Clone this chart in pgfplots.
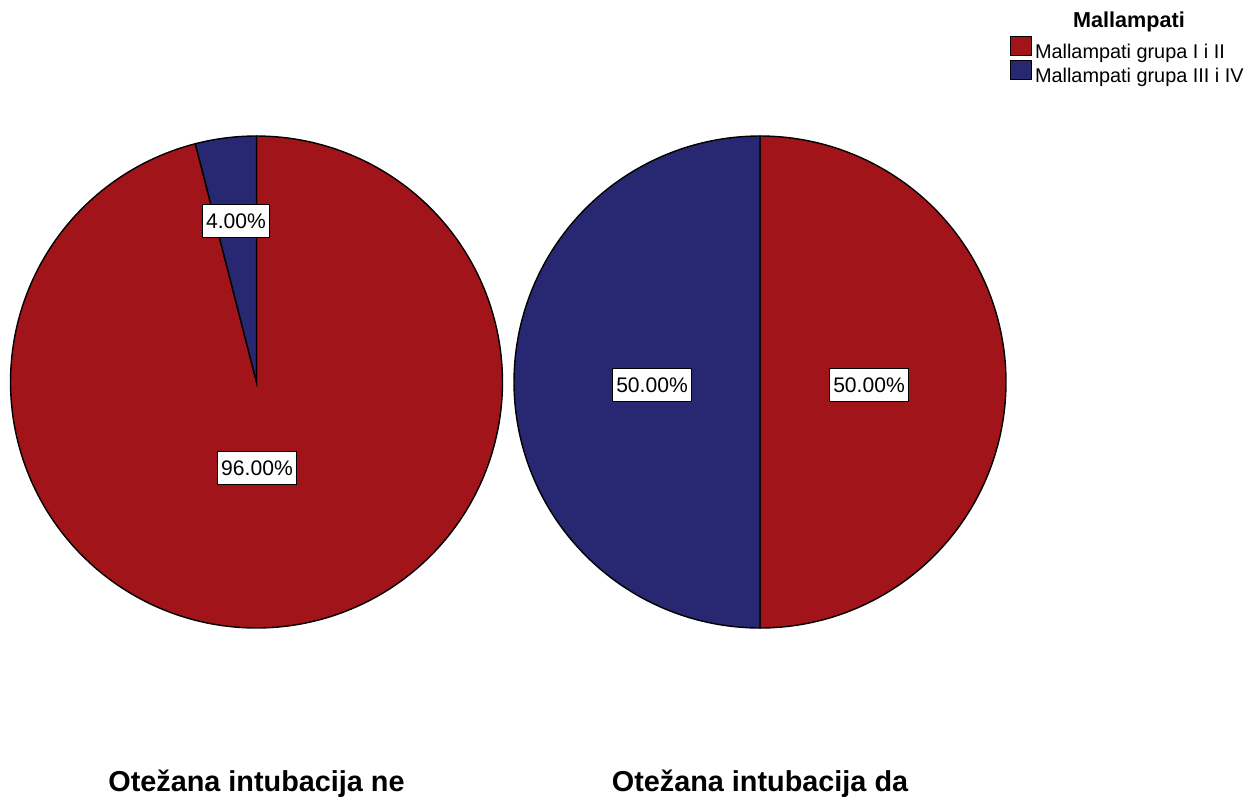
\documentclass[border=0pt]{standalone}
\usepackage{pgfplots}
\pgfplotsset{compat=1.18}
\usepackage{fontspec}
\setmainfont{Liberation Sans}
\definecolor{spssred}{RGB}{160,20,26}
\definecolor{spssblue}{RGB}{40,40,114}
% Data (percent): Otezana intubacija ne: I i II = 96, III i IV = 4
%                 Otezana intubacija da: I i II = 50, III i IV = 50
\newcommand{\neA}{96}
\newcommand{\neB}{4}
\newcommand{\daA}{50}
\newcommand{\daB}{50}
\begin{document}
\begin{tikzpicture}
\begin{axis}[
  scale only axis, width=25.12cm, height=15.96cm,
  xmin=0, xmax=1256, ymin=0, ymax=798,
  hide axis, clip=false,
  legend style={at={(axis cs:1010,762)}, anchor=north west, draw=none, fill=none,
    inner sep=0pt, outer sep=0pt, row sep=-0.08cm,
    font=\fontsize{11.3}{13}\selectfont,
    nodes={inner sep=0pt, text height=0.3cm, text depth=0.1cm},
    /tikz/every odd column/.append style={column sep=0.06cm}},
  legend cell align=left,
  legend image code/.code={\draw[#1, line width=0.6pt] (0cm,-0.04cm) rectangle (0.42cm,0.34cm);},
]
\path (axis cs:0,0) rectangle (axis cs:1256,798);
% Pie 1 (ne)
\addplot[fill=spssred, draw=black, line width=0.8pt, domain=0:\neA, samples=240, variable=\t]
  ({256.5+246*sin(3.6*\t)}, {416+246*cos(3.6*\t)}) -- (256.5,416) -- cycle;
\addlegendentry{Mallampati grupa I i II}
\addplot[fill=spssblue, draw=black, line width=0.8pt, domain=\neA:\neA+\neB, samples=30, variable=\t]
  ({256.5+246*sin(3.6*\t)}, {416+246*cos(3.6*\t)}) -- (256.5,416) -- cycle;
\addlegendentry{Mallampati grupa III i IV}
% Pie 2 (da)
\addplot[forget plot, fill=spssred, draw=black, line width=0.8pt, domain=0:\daA, samples=160, variable=\t]
  ({760+246*sin(3.6*\t)}, {416+246*cos(3.6*\t)}) -- (760,416) -- cycle;
\addplot[forget plot, fill=spssblue, draw=black, line width=0.8pt, domain=\daA:\daA+\daB, samples=160, variable=\t]
  ({760+246*sin(3.6*\t)}, {416+246*cos(3.6*\t)}) -- (760,416) -- cycle;
% Slice labels
\tikzset{lbl/.style={draw=black, fill=white, line width=0.6pt, inner xsep=0.07cm, inner ysep=0pt,
  minimum height=0.66cm, font=\fontsize{12}{14}\selectfont}}
\node[lbl] at (axis cs:236,577) {4.00\%};
\node[lbl] at (axis cs:257,330) {96.00\%};
\node[lbl] at (axis cs:652,413) {50.00\%};
\node[lbl] at (axis cs:869,413) {50.00\%};
% Titles
\node[anchor=base, font=\bfseries\fontsize{16.4}{20}\selectfont] at (axis cs:256.5,7) {Otežana intubacija ne};
\node[anchor=base, font=\bfseries\fontsize{16.4}{20}\selectfont] at (axis cs:760,7) {Otežana intubacija da};
% Legend title
\node[anchor=base, font=\bfseries\fontsize{12.3}{14}\selectfont] at (axis cs:1129,770) {Mallampati};
\end{axis}
\end{tikzpicture}
\end{document}
